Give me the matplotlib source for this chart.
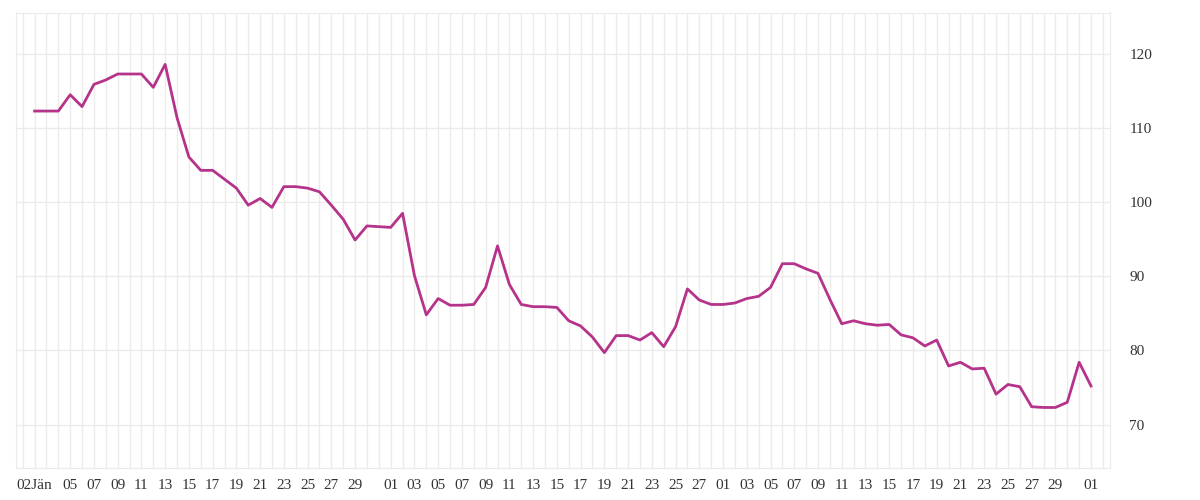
import numpy as np
import matplotlib.pyplot as plt
import datetime as dt

values = [
    112.3, 112.3, 112.3, 114.5, 112.9, 115.9, 116.5, 117.3, 117.3, 117.3,
    115.5, 118.6, 111.4, 106.1, 104.3, 104.3, 103.1, 101.9, 99.6, 100.5,
    99.3, 102.1, 102.1, 101.9, 101.4, 99.6, 97.7, 94.9, 96.8,
    96.7, 96.6, 98.5, 90.1, 84.8, 87.0, 86.1, 86.1, 86.2, 88.5,
    94.1, 88.9, 86.2, 85.9, 85.9, 85.8, 84.0, 83.3, 81.8, 79.7,
    82.0, 82.0, 81.4, 82.4, 80.5, 83.2, 88.3, 86.8, 86.2, 86.2,
    86.4, 87.0,
    87.3, 88.5, 91.7, 91.7, 91.0, 90.4, 86.9, 83.6, 84.0, 83.6,
    83.4, 83.5, 82.1, 81.7, 80.6, 81.4, 77.9, 78.4, 77.5, 77.6,
    74.1, 75.4, 75.1, 72.4, 72.3, 72.3, 73.0, 78.4, 75.2,
]
start = dt.date(2023, 1, 2)
tick_dates = ([dt.date(2023, 1, 2)] + [dt.date(2023, 1, d) for d in range(5, 30, 2)]
              + [dt.date(2023, 2, d) for d in range(1, 28, 2)]
              + [dt.date(2023, 3, d) for d in range(1, 30, 2)]
              + [dt.date(2023, 4, 1)])
tick_labels = ['02Jän'] + [d.strftime('%d') for d in tick_dates[1:]]

x = np.arange(len(values))
tick_pos = [(d - start).days for d in tick_dates]

fig, ax = plt.subplots(figsize=(12, 5), dpi=100)
fig.subplots_adjust(left=0.013, right=0.925, top=0.975, bottom=0.065)

ax.plot(x, values, color='#b5338a', lw=2)

ax.set_xlim(-1.6, 90.6)
ax.set_ylim(64.2, 125.6)
ax.set_xticks(np.arange(-1, 91), minor=True)
ax.set_xticks(tick_pos)
ax.set_xticklabels(tick_labels, fontfamily='Liberation Serif', fontsize=11, color='#333333')
ax.set_yticks([70, 80, 90, 100, 110, 120])
ax.yaxis.tick_right()
for lab in ax.get_yticklabels():
    lab.set_fontfamily('Liberation Serif')
    lab.set_fontsize(11)
    lab.set_color('#333333')
ax.tick_params(axis='both', which='both', length=0, pad=8)
ax.tick_params(axis='y', pad=14)
ax.grid(True, axis='x', which='both', color='#ebebeb', lw=1)
ax.grid(True, axis='y', which='major', color='#ebebeb', lw=1)
for s in ['left', 'top', 'right', 'bottom']:
    ax.spines[s].set_color('#ebebeb')

plt.savefig('out.png')
